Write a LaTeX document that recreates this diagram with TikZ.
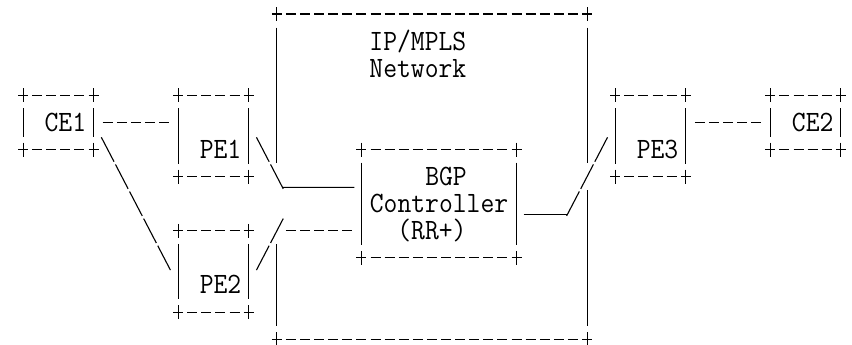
\documentclass[tikz,border=0pt]{standalone}
\usepackage{graphicx}
\usepackage{tikz}

% text squeezed to the width of one character cell
\newcommand{\monotext}[1]{\scalebox{0.91}[1]{#1}}
% top and bottom edges of a box, with their corners
\newcommand{\asciirims}[1]{%
	\draw[rim] (#1.north west) -- (#1.north east);
	\draw[rim] (#1.south west) -- (#1.south east);
	\draw ([yshift=7pt]#1.north west) -- ([yshift=-7pt]#1.north west);
	\draw ([yshift=7pt]#1.north east) -- ([yshift=-7pt]#1.north east);
	\draw ([yshift=7pt]#1.south west) -- ([yshift=-7pt]#1.south west);
	\draw ([yshift=7pt]#1.south east) -- ([yshift=-7pt]#1.south east);
}
% left and right edges of a box
\newcommand{\asciisides}[1]{%
	\draw[side] (#1.north west) -- (#1.south west);
	\draw[side] (#1.north east) -- (#1.south east);
}

\begin{document}
\begin{tikzpicture}[x=14.1pt, y=-27.1pt, line width=1.1pt,
	box/.style 2 args={inner sep=0, outer sep=0, minimum width=#1*14.1pt, minimum height=#2*27.1pt},
	txt/.style={font=\ttfamily\fontsize{29.5}{30}\selectfont, inner sep=0, anchor=base},
	rim/.style={dash pattern=on 10pt off 4.1pt, shorten <=-5pt, shorten >=-5pt},
	side/.style={shorten <=13pt, shorten >=13pt},
	link/.style={dash pattern=on 10pt off 4.1pt, shorten <=9.1pt, shorten >=9.1pt},
	slant/.style={dash pattern=on 27.5pt off 3.05pt}
]
\useasboundingbox (-0.638, -0.517) rectangle (59.79, 12.214);

% Boxes
\node[box={5}{2}] (ce1) at (3.5, 4) {};
\node[box={5}{3}] (pe1) at (14.5, 4.5) {};
\node[box={5}{3}] (pe2) at (14.5, 9.5) {};
\node[box={5}{3}] (pe3) at (45.5, 4.5) {};
\node[box={5}{2}] (ce2) at (56.5, 4) {};
\node[box={11}{4}] (ctrl) at (30.5, 7) {};
\node[box={22}{12}] (net) at (30, 6) {};

\asciirims{ce1} \asciisides{ce1}
\asciirims{pe1} \asciisides{pe1}
\asciirims{pe2} \asciisides{pe2}
\asciirims{pe3} \asciisides{pe3}
\asciirims{ce2} \asciisides{ce2}
\asciirims{ctrl} \asciisides{ctrl}
\asciirims{net}

% Network sides, open where the links cross
\draw ([shift={(0, 0.5)}]net.north west) -- ([shift={(0, 5.5)}]net.north west);
\draw ([shift={(0, 8.5)}]net.north west) -- ([shift={(0, 11.5)}]net.north west);
\draw ([shift={(0, 0.5)}]net.north east) -- ([shift={(0, 5.5)}]net.north east);
\draw ([shift={(0, 6.5)}]net.north east) -- ([shift={(0, 11.5)}]net.north east);

% Labels
\node[txt] (ce1text) at (4, 4.33) {\monotext{CE1}};
\node[txt] (pe1text) at (15, 5.33) {\monotext{PE1}};
\node[txt] (pe2text) at (15, 10.33) {\monotext{PE2}};
\node[txt] (pe3text) at (46, 5.33) {\monotext{PE3}};
\node[txt] (ce2text) at (57, 4.33) {\monotext{CE2}};
\node[txt] (iptext) at (29, 1.33) {\monotext{IP/MPLS}};
\node[txt] (nettext) at (29, 2.33) {\monotext{Network}};
\node[txt] (bgptext) at (31, 6.33) {\monotext{BGP}};
\node[txt] (ctrltext) at (30.5, 7.33) {\monotext{Controller}};
\node[txt] (rrtext) at (30, 8.33) {\monotext{(RR+)}};

% CE to PE
\draw[link] (ce1.east) -- (ce1.east -| pe1.west);
\draw[link] (pe3.east |- ce2.west) -- (ce2.west);
\draw[slant] ([shift={(0.55, 0.55)}]ce1.east) -- ([shift={(-0.55, -0.05)}]pe2.west);

% PE1 to controller
\draw[slant] ([shift={(0.55, 0.05)}]pe1.east) -- ([shift={(2.45, 1.95)}]pe1.east);
\draw ([shift={(2.45, 1.9)}]pe1.east) -- ([shift={(-0.5, -0.6)}]ctrl.west);

% PE2 to controller
\draw[slant] ([shift={(0.55, -0.05)}]pe2.east) -- ([shift={(2.45, -1.95)}]pe2.east);
\draw[link] ([shift={(2, -1.5)}]pe2.east) -- ([shift={(0, 1)}]ctrl.west);

% Controller to PE3
\draw ([shift={(0.5, 0.4)}]ctrl.east) -- ([shift={(-3.45, 2.9)}]pe3.west);
\draw[slant] ([shift={(-3.45, 2.95)}]pe3.west) -- ([shift={(-0.55, 0.05)}]pe3.west);
\end{tikzpicture}
\end{document}
